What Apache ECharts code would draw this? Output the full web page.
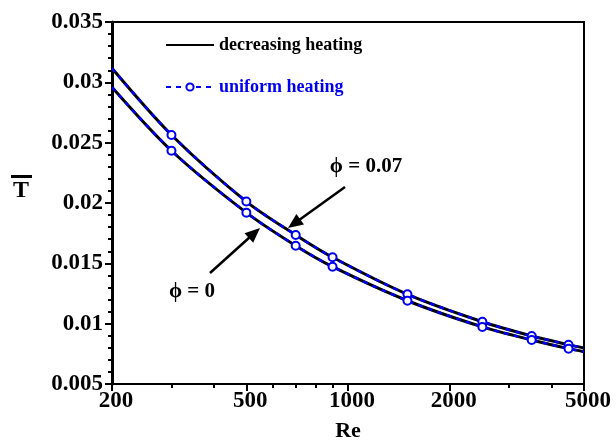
<!DOCTYPE html>
<html><head><meta charset="utf-8">
<script src="https://cdn.jsdelivr.net/npm/echarts@6/dist/echarts.min.js"></script>
<style>html,body{margin:0;padding:0;background:#fff}#c{width:616px;height:443px}</style>
</head><body><div id="c"></div>
<script>
// Reynolds numbers (x)
const reValues = [200, 300, 500, 700, 900, 1500, 2500, 3500, 4500, 5000];
// mean temperature T̄, decreasing heating (solid black)
const decreasingPhi007 = [0.03116, 0.02564, 0.02012, 0.01735, 0.01550, 0.01243, 0.01016, 0.00898, 0.00826, 0.00798];
const decreasingPhi0   = [0.02959, 0.02433, 0.01920, 0.01646, 0.01472, 0.01190, 0.00973, 0.00865, 0.00793, 0.00768];
// uniform heating (blue dashed with markers)
const uniformPhi007 = [0.03116, 0.02564, 0.02012, 0.01735, 0.01550, 0.01243, 0.01016, 0.00898, 0.00826, 0.00798];
const uniformPhi0   = [0.02959, 0.02433, 0.01920, 0.01646, 0.01472, 0.01190, 0.00973, 0.00865, 0.00793, 0.00768];
const xMajorTicks = [200, 500, 1000, 2000, 5000];
const xMinorTicks = [300, 400, 600, 700, 800, 900, 3000, 4000];
const yTickLabels = ['0.005', '0.01', '0.015', '0.02', '0.025', '0.03', '0.035'];
const seriesNames = ['decreasing heating', 'uniform heating'];
const annotationTexts = ['ϕ = 0.07', 'ϕ = 0'];

const FONT = 'Liberation Serif';
const BLUE = '#0000ee';

function pairs(ys, markEnds) {
  return reValues.map((x, i) => {
    const item = { value: [x, ys[i]] };
    if (markEnds && (i === 0 || i === reValues.length - 1)) item.symbol = 'none';
    return item;
  });
}

function arrow(x1, y1, x2, y2) {
  const dx = x2 - x1, dy = y2 - y1, L = Math.hypot(dx, dy);
  const ux = dx / L, uy = dy / L, hl = 15, hw = 6.5;
  const bx = x2 - ux * hl, by = y2 - uy * hl;
  return [
    { type: 'line', shape: { x1: x1, y1: y1, x2: bx + ux * 3, y2: by + uy * 3 }, style: { stroke: '#000', lineWidth: 2.5 } },
    { type: 'polygon', shape: { points: [[x2, y2], [bx - uy * hw, by + ux * hw], [bx + uy * hw, by - ux * hw]] }, style: { fill: '#000' } }
  ];
}

const labelFont = { fontFamily: FONT, fontWeight: 'bold', fontSize: 23, color: '#000' };

const chart = echarts.init(document.getElementById('c'), null, { renderer: 'canvas' });
chart.setOption({
  animation: false,
  backgroundColor: '#fff',
  grid: { left: 112, right: 32, top: 22, bottom: 59, show: true, borderColor: '#000', borderWidth: 2, outerBoundsMode: 'none', containLabel: false },
  legend: {
    orient: 'vertical', left: 160, top: 31, itemWidth: 48, itemHeight: 9, itemGap: 24, itemTextGap: 9,
    data: [
      { name: seriesNames[0], textStyle: { color: '#000' }, itemStyle: { opacity: 0 } },
      { name: seriesNames[1], textStyle: { color: BLUE } }
    ],
    textStyle: { fontFamily: FONT, fontWeight: 'bold', fontSize: 18, lineHeight: 18 }
  },
  xAxis: [
    {
      type: 'log', logBase: 10, min: 200, max: 5000, position: 'bottom',
      axisLine: { lineStyle: { color: '#000', width: 2 } },
      axisTick: { customValues: xMajorTicks, length: 7, lineStyle: { color: '#000', width: 2 } },
      axisLabel: Object.assign({ customValues: xMajorTicks, margin: 6, padding: [0, 0, 0, 8], formatter: (v) => String(Math.round(v)) }, labelFont),
      splitLine: { show: false }, minorTick: { show: false },
      name: 'Re', nameLocation: 'middle', nameGap: 36,
      nameTextStyle: { fontFamily: FONT, fontWeight: 'bold', fontSize: 22, color: '#000' }
    },
    {
      type: 'log', logBase: 10, min: 200, max: 5000, position: 'bottom',
      axisLine: { show: false },
      axisTick: { customValues: xMinorTicks, length: 4, lineStyle: { color: '#000', width: 2 } },
      axisLabel: { show: false }, splitLine: { show: false }
    }
  ],
  yAxis: {
    type: 'value', min: 0.005, max: 0.035, interval: 0.005,
    axisLine: { show: true, lineStyle: { color: '#000', width: 3 } },
    axisTick: { show: true, length: 7, lineStyle: { color: '#000', width: 2 } },
    minorTick: { show: true, splitNumber: 5, length: 4, lineStyle: { color: '#000', width: 2 } },
    axisLabel: Object.assign({ margin: 9, formatter: (v) => yTickLabels[Math.round((v - 0.005) / 0.005)] }, labelFont),
    splitLine: { show: false },
    name: 'T', nameLocation: 'middle', nameRotate: 0, nameGap: 83,
    nameTextStyle: { fontFamily: FONT, fontWeight: 'bold', fontSize: 24, color: '#000', verticalAlign: 'bottom' }
  },
  series: [
    { name: seriesNames[0], type: 'line', data: pairs(decreasingPhi007), symbol: 'none', smooth: 0.3, lineStyle: { color: '#000', width: 3 }, itemStyle: { color: '#000' }, z: 2 },
    { name: seriesNames[0], type: 'line', data: pairs(decreasingPhi0), symbol: 'none', smooth: 0.3, lineStyle: { color: '#000', width: 3 }, itemStyle: { color: '#000' }, z: 2 },
    { name: seriesNames[1], type: 'line', data: pairs(uniformPhi007, true), symbol: 'emptyCircle', symbolSize: 8, showAllSymbol: true, smooth: 0.3, lineStyle: { color: BLUE, width: 2.5, type: [5, 5] }, itemStyle: { color: BLUE, borderWidth: 1 }, z: 3 },
    { name: seriesNames[1], type: 'line', data: pairs(uniformPhi0, true), symbol: 'emptyCircle', symbolSize: 8, showAllSymbol: true, smooth: 0.3, lineStyle: { color: BLUE, width: 2.5, type: [5, 5] }, itemStyle: { color: BLUE, borderWidth: 1 }, z: 3 }
  ],
  graphic: [
    { type: 'rect', shape: { x: 11, y: 175, width: 21, height: 3 }, style: { fill: '#000' } },
    { type: 'text', x: 366, y: 167, style: { text: annotationTexts[0], font: 'bold 21px "Liberation Serif"', fill: '#000', align: 'center', verticalAlign: 'middle' } },
    { type: 'text', x: 192, y: 292, style: { text: annotationTexts[1], font: 'bold 21px "Liberation Serif"', fill: '#000', align: 'center', verticalAlign: 'middle' } }
  ].concat(arrow(345, 187, 288, 228), arrow(210, 273, 260, 228))
});
</script>
</body></html>
